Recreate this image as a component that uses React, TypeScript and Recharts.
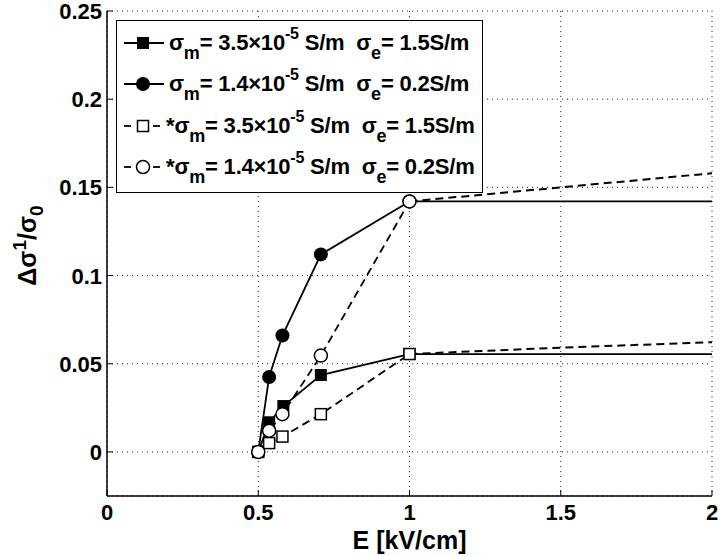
import React from "react";
import { LineChart, Line, XAxis, YAxis, CartesianGrid, Legend } from "recharts";

const FONT = '"Liberation Sans", Arial, Helvetica, sans-serif';

// measured E [kV/cm]
const eFilledSquare = [0.5, 0.536, 0.583, 0.707, 1.0];
const eFilledCircle = [0.5, 0.536, 0.58, 0.707, 1.0];
const eOpenSquare = [0.5, 0.536, 0.58, 0.707, 1.0];
const eOpenCircle = [0.5, 0.536, 0.58, 0.707, 1.0];

// delta sigma / sigma0
const yFilledSquare = [0, 0.0168, 0.026, 0.0436, 0.0555];
const yFilledCircle = [0, 0.0425, 0.066, 0.112, 0.142];
const yOpenSquare = [0, 0.005, 0.0087, 0.0214, 0.0555];
const yOpenCircle = [0, 0.012, 0.0214, 0.0546, 0.142];

// model curves beyond 1 kV/cm (no markers)
const eTailSolid = [1.0, 2.0];
const yTailSolidSquare = [0.0555, 0.0555];
const yTailSolidCircle = [0.142, 0.142];
const eTailDashed = [1.0, 1.5, 2.0];
const yTailDashedSquare = [0.0555, 0.0591, 0.0622];
const yTailDashedCircle = [0.142, 0.15, 0.158];

const xTicks = [0, 0.5, 1, 1.5, 2];
const yTicks = [0, 0.05, 0.1, 0.15, 0.2, 0.25];

const legendRows = [
  { marker: "filledSquare", dashed: false, star: false, sm: "3.5", se: "1.5" },
  { marker: "filledCircle", dashed: false, star: false, sm: "1.4", se: "0.2" },
  { marker: "openSquare", dashed: true, star: true, sm: "3.5", se: "1.5" },
  { marker: "openCircle", dashed: true, star: true, sm: "1.4", se: "0.2" },
];

const zip = (xs: number[], ys: number[]) => xs.map((x, i) => ({ x, y: ys[i] }));

function Marker({ kind, cx, cy }: { kind: string; cx: number; cy: number }) {
  if (kind === "filledSquare")
    return <rect x={cx - 6} y={cy - 6} width={12} height={12} fill="#000" />;
  if (kind === "filledCircle") return <circle cx={cx} cy={cy} r={7} fill="#000" />;
  if (kind === "openSquare")
    return (
      <rect x={cx - 5.5} y={cy - 5.5} width={11} height={11} fill="#fff" stroke="#000" strokeWidth={1.5} />
    );
  return <circle cx={cx} cy={cy} r={6.5} fill="#fff" stroke="#000" strokeWidth={1.5} />;
}

const dotOf = (kind: string) => (p: any) =>
  <Marker key={`${kind}-${p.index}`} kind={kind} cx={p.cx} cy={p.cy} />;

const BottomTick = (p: any) => (
  <g>
    <line x1={p.x} y1={p.y} x2={p.x} y2={p.y - 6} stroke="#000" strokeWidth={1} />
    <text x={p.x} y={p.y + 24} textAnchor="middle" fontFamily={FONT} fontWeight="bold" fontSize={22} fill="#000">
      {p.payload.value}
    </text>
  </g>
);
const LeftTick = (p: any) => (
  <g>
    <line x1={p.x} y1={p.y} x2={p.x + 6} y2={p.y} stroke="#000" strokeWidth={1} />
    <text x={p.x - 5} y={p.y + 8} textAnchor="end" fontFamily={FONT} fontWeight="bold" fontSize={22} fill="#000">
      {p.payload.value}
    </text>
  </g>
);
const TopTick = (p: any) => (
  <line x1={p.x} y1={p.y} x2={p.x} y2={p.y + 6} stroke="#000" strokeWidth={1} />
);
const RightTick = (p: any) => (
  <line x1={p.x} y1={p.y} x2={p.x - 6} y2={p.y} stroke="#000" strokeWidth={1} />
);

const YLabel = (p: any) => {
  const vb = p.viewBox || { x: 0, y: 11, width: 107, height: 485 };
  const cx = 36;
  const cy = vb.y + vb.height / 2 - 8;
  return (
    <text
      transform={`rotate(-90, ${cx}, ${cy})`}
      x={cx}
      y={cy}
      textAnchor="middle"
      fontFamily={FONT}
      fontWeight="bold"
      fontSize={25}
      fill="#000"
    >
      Δσ
      <tspan dy={-10} fontSize={19}>1</tspan>
      <tspan dy={10}>/σ</tspan>
      <tspan dy={7} fontSize={19}>0</tspan>
    </text>
  );
};

const XLabel = (p: any) => {
  const vb = p.viewBox || { x: 107, y: 496, width: 605, height: 60 };
  return (
    <text
      x={vb.x + vb.width / 2}
      y={549}
      textAnchor="middle"
      fontFamily={FONT}
      fontWeight="bold"
      fontSize={25}
      fill="#000"
    >
      E [kV/cm]
    </text>
  );
};

function LegendBox() {
  const sub = { position: "relative" as const, top: 9, fontSize: 18 };
  const sup = { position: "relative" as const, top: -11, fontSize: 16 };
  return (
    <div
      style={{
        width: 367,
        height: 173,
        boxSizing: "border-box",
        border: "1.5px solid #000",
        background: "#fff",
        paddingTop: 1,
        fontFamily: FONT,
        fontWeight: "bold",
        fontSize: 22,
        color: "#000",
      }}
    >
      {legendRows.map((r, i) => (
        <div key={i} style={{ display: "flex", alignItems: "center", height: 41.5, whiteSpace: "pre" }}>
          <svg width={50} height={20} style={{ marginLeft: 5, flex: "none" }}>
            {r.dashed ? (
              <>
                <line x1={2} y1={10} x2={9} y2={10} stroke="#000" strokeWidth={1.8} />
                <line x1={31} y1={10} x2={38} y2={10} stroke="#000" strokeWidth={1.8} />
              </>
            ) : (
              <line x1={2} y1={10} x2={42} y2={10} stroke="#000" strokeWidth={1.8} />
            )}
            <Marker kind={r.marker} cx={21} cy={10} />
          </svg>
          <span style={{ marginLeft: r.star ? -6 : -3, letterSpacing: -0.2 }}>
            {r.star ? "*" : ""}σ<span style={sub}>m</span>= {r.sm}×10<span style={sup}>-5</span> S/m  σ
            <span style={sub}>e</span>= {r.se}S/m
          </span>
        </div>
      ))}
    </div>
  );
}

export default function App() {
  return (
    <div style={{ position: "absolute", left: 0, top: 0, width: 720, height: 556, background: "#fff" }}>
      <LineChart width={720} height={556} margin={{ top: 11, right: 8, bottom: 0, left: 0 }}>
        <CartesianGrid stroke="#222" strokeDasharray="1 4" strokeWidth={1} />
        <XAxis
          type="number"
          dataKey="x"
          domain={[0, 2]}
          ticks={xTicks}
          height={60}
          tickSize={0}
          tickMargin={0}
          tick={BottomTick}
          axisLine={{ stroke: "#000", strokeWidth: 1.5 }}
          tickLine={false}
          label={<XLabel />}
          allowDataOverflow
        />
        <XAxis
          xAxisId="top"
          orientation="top"
          type="number"
          dataKey="x"
          domain={[0, 2]}
          ticks={xTicks}
          height={0}
          tickSize={0}
          tickMargin={0}
          tick={TopTick}
          axisLine={{ stroke: "#000", strokeWidth: 1.5 }}
          tickLine={false}
          allowDataOverflow
        />
        <YAxis
          type="number"
          domain={[-0.025, 0.25]}
          ticks={yTicks}
          width={107}
          tickSize={0}
          tickMargin={0}
          tick={LeftTick}
          axisLine={{ stroke: "#000", strokeWidth: 1.5 }}
          tickLine={false}
          label={<YLabel />}
          allowDataOverflow
        />
        <YAxis
          yAxisId="right"
          orientation="right"
          type="number"
          domain={[-0.025, 0.25]}
          ticks={yTicks}
          width={0}
          tickSize={0}
          tickMargin={0}
          tick={RightTick}
          axisLine={{ stroke: "#000", strokeWidth: 1.5 }}
          tickLine={false}
          allowDataOverflow
        />
        <Legend
          layout="vertical"
          align="center"
          verticalAlign="middle"
          content={() => <LegendBox />}
          wrapperStyle={{ position: "absolute", left: 116, top: 20, width: 367, height: 173 }}
        />
        <Line data={zip(eTailSolid, yTailSolidSquare)} dataKey="y" stroke="#000" strokeWidth={1.8} dot={false} isAnimationActive={false} legendType="none" />
        <Line data={zip(eTailSolid, yTailSolidCircle)} dataKey="y" stroke="#000" strokeWidth={1.8} dot={false} isAnimationActive={false} legendType="none" />
        <Line data={zip(eTailDashed, yTailDashedSquare)} dataKey="y" stroke="#000" strokeWidth={2} strokeDasharray="8 5" dot={false} isAnimationActive={false} legendType="none" />
        <Line data={zip(eTailDashed, yTailDashedCircle)} dataKey="y" stroke="#000" strokeWidth={2} strokeDasharray="8 5" dot={false} isAnimationActive={false} legendType="none" />
        <Line data={zip(eFilledSquare, yFilledSquare)} dataKey="y" stroke="#000" strokeWidth={1.8} dot={dotOf("filledSquare")} isAnimationActive={false} />
        <Line data={zip(eFilledCircle, yFilledCircle)} dataKey="y" stroke="#000" strokeWidth={1.8} dot={dotOf("filledCircle")} isAnimationActive={false} />
        <Line data={zip(eOpenSquare, yOpenSquare)} dataKey="y" stroke="#000" strokeWidth={1.8} strokeDasharray="8 5" dot={dotOf("openSquare")} isAnimationActive={false} />
        <Line data={zip(eOpenCircle, yOpenCircle)} dataKey="y" stroke="#000" strokeWidth={1.8} strokeDasharray="8 5" dot={dotOf("openCircle")} isAnimationActive={false} />
      </LineChart>
    </div>
  );
}
